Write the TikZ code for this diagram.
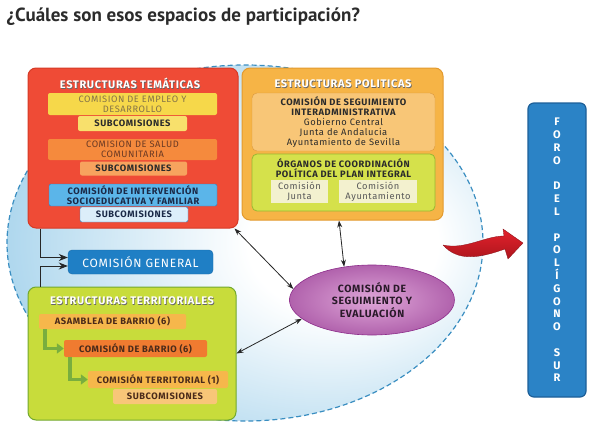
\documentclass[tikz,border=0pt]{standalone}
\usepackage{fontspec}
\setmainfont{Fira Sans}
\newfontfamily\titlefont{PT Sans}
\newfontfamily\boxfont[LetterSpace=6]{Fira Sans}
\usetikzlibrary{arrows.meta,shapes.geometric}

\definecolor{titlegray}{HTML}{2B2B2B}
\definecolor{linegray}{HTML}{262626}
\definecolor{temred}{HTML}{EF4B36}
\definecolor{temredd}{HTML}{D63A26}
\definecolor{empyel}{HTML}{F6D84A}
\definecolor{empytxt}{HTML}{857448}
\definecolor{subyel}{HTML}{F8E06C}
\definecolor{salor}{HTML}{F58A3D}
\definecolor{saltxt}{HTML}{6B3A24}
\definecolor{subor}{HTML}{F7A35E}
\definecolor{intblue}{HTML}{5BB5E9}
\definecolor{intblued}{HTML}{2E7DBE}
\definecolor{inttxt}{HTML}{1B2A48}
\definecolor{subblue}{HTML}{DCEEFA}
\definecolor{polor}{HTML}{F6B446}
\definecolor{polord}{HTML}{E39A2E}
\definecolor{segor}{HTML}{F8C677}
\definecolor{segord}{HTML}{D9983E}
\definecolor{orggreen}{HTML}{D5E14B}
\definecolor{orggreend}{HTML}{98B832}
\definecolor{pale}{HTML}{F3F1CF}
\definecolor{genblue}{HTML}{1F7FC5}
\definecolor{genblued}{HTML}{176AAA}
\definecolor{tergreen}{HTML}{C8DC3B}
\definecolor{tergreend}{HTML}{72A92E}
\definecolor{asamor}{HTML}{F6B74B}
\definecolor{barrior}{HTML}{F07B30}
\definecolor{subter}{HTML}{F8C678}
\definecolor{brown}{HTML}{4A2A1A}
\definecolor{arrgreen}{HTML}{79AE3E}
\definecolor{bgblue}{HTML}{A6D3EC}
\definecolor{bgdash}{HTML}{3A8EC1}
\definecolor{evalin}{HTML}{DFA6D8}
\definecolor{evalout}{HTML}{8C2C8A}
\definecolor{evaltxt}{HTML}{2A1A2A}
\definecolor{foroblue}{HTML}{2B83C6}
\definecolor{forodark}{HTML}{1D5F98}
\definecolor{arrowred}{HTML}{E3222C}
\definecolor{arrowdark}{HTML}{A8141C}

\pgfdeclareradialshading{bgshade}{\pgfpoint{12bp}{0bp}}{color(0bp)=(white); color(10bp)=(white); color(34bp)=(bgblue); color(70bp)=(bgblue)}
\pgfdeclareradialshading{evalshade}{\pgfpoint{0bp}{0bp}}{color(0bp)=(evalin); color(45bp)=(evalout); color(70bp)=(evalout)}

\newcommand{\shadowed}[1]{\rlap{\raisebox{-0.7pt}{\hspace{0.7pt}\textcolor{black!60}{#1}}}#1}

\tikzset{
  box/.style={rectangle, rounded corners=2pt, inner sep=0pt, align=center},
  panel/.style={box, rounded corners=8pt, line width=1pt},
  head/.style={font=\boxfont\fontsize{11}{12}\selectfont\bfseries, text=white},
  small/.style={font=\boxfont\fontsize{9.3}{10}\selectfont},
  smallb/.style={font=\boxfont\fontsize{9.3}{10}\selectfont\bfseries},
  blk/.style={draw=linegray, line width=0.9pt, -{Stealth[length=9pt,width=7pt]}},
  dbl/.style={draw=linegray, line width=0.8pt, {Stealth[length=7pt,width=5pt]}-{Stealth[length=7pt,width=5pt]}},
  garr/.style={draw=arrgreen, line width=3.5pt, -{Triangle[length=7pt,width=10pt]}}
}

\begin{document}
\begin{tikzpicture}[x=1pt,y=-1pt]
  \useasboundingbox (0,0) rectangle (600,442);
  % title
  \node[anchor=west, font=\titlefont\fontsize{19}{22}\selectfont\bfseries, text=titlegray] (title) at (3,17) {¿Cuáles son esos espacios de participación?};
  % background circle
  \path[shade, shading=bgshade, draw=bgdash, dash pattern=on 5pt off 3pt, line width=1.2pt] (245,243) ellipse (238 and 178);

  % Estructuras tematicas
  \node[panel, fill=temred, draw=temredd, minimum width=210pt, minimum height=160pt] (tem) at (133,148) {};
  \node[head] (temhead) at (130,84) {\shadowed{ESTRUCTURAS TEMÁTICAS}};
  \node[box, small, fill=empyel, text=empytxt, minimum width=169pt, minimum height=22pt] (empleo) at (132.5,104) {COMISION DE EMPLEO Y\\DESARROLLO};
  \node[box, smallb, fill=subyel, text=titlegray, minimum width=109pt, minimum height=15pt] (subemp) at (132.5,123.5) {SUBCOMISIONES};
  \node[box, small, fill=salor, text=saltxt, minimum width=169pt, minimum height=21pt] (salud) at (132.5,149.5) {COMISION DE SALUD\\COMUNITARIA};
  \node[box, smallb, fill=subor, text=titlegray, minimum width=107pt, minimum height=14pt] (subsal) at (133.5,168.5) {SUBCOMISIONES};
  \node[box, smallb, fill=intblue, draw=intblued, text=inttxt, minimum width=168pt, minimum height=22pt] (interv) at (133,195) {COMISIÓN DE INTERVENCIÓN\\SOCIOEDUCATIVA Y FAMILIAR};
  \node[box, smallb, fill=subblue, draw=intblued, text=inttxt, minimum width=108pt, minimum height=15pt] (subint) at (134,214.5) {SUBCOMISIONES};

  % Estructuras politicas
  \node[panel, fill=polor, draw=polord, minimum width=201pt, minimum height=152pt] (pol) at (342.5,144) {};
  \node[head] (polhead) at (343,84) {\shadowed{ESTRUCTURAS POLITICAS}};
  \node[box, small, rounded corners=5pt, fill=segor, draw=segord, text=titlegray, minimum width=183pt, minimum height=58pt] (seg) at (343.5,122)
    {\bfseries COMISIÓN DE SEGUIMIENTO\\\bfseries INTERADMINISTRATIVA\\Gobierno Central\\Junta de Andalucia\\Ayuntamiento de Sevilla};
  \node[box, rounded corners=5pt, fill=orggreen, draw=orggreend, line width=0.8pt, minimum width=183pt, minimum height=57pt] (org) at (343.5,182.5) {};
  \node[smallb, align=center, text=titlegray] (orghead) at (343.5,168) {ÓRGANOS DE COORDINACIÓN\\POLÍTICA DEL PLAN INTEGRAL};
  \node[box, small, rounded corners=0pt, fill=pale, text=black!65, minimum width=57pt, minimum height=23pt] (junta) at (299.5,191.5) {Comisión\\Junta};
  \node[box, small, rounded corners=0pt, fill=pale, text=black!65, minimum width=78pt, minimum height=23pt] (ayto) at (378,191.5) {Comisión\\Ayuntamiento};

  % Comision general
  \node[box, rounded corners=4pt, fill=genblue, draw=genblued, text=white, font=\boxfont\fontsize{12}{13}\selectfont, minimum width=145pt, minimum height=24pt] (gen) at (140.5,262) {COMISIÓN GENERAL};

  % Estructuras territoriales
  \node[panel, fill=tergreen, draw=tergreend, minimum width=208pt, minimum height=133pt] (ter) at (132,353.5) {};
  \node[head] (terhead) at (132,301) {\shadowed{ESTRUCTURAS TERRITORIALES}};
  \node[box, smallb, fill=asamor, text=brown, minimum width=147pt, minimum height=15pt] (asam) at (112.5,321.5) {ASAMBLEA DE BARRIO (6)};
  \node[box, smallb, fill=barrior, text=brown, minimum width=143pt, minimum height=17pt] (barrio) at (135.5,348.5) {COMISIÓN DE BARRIO (6)};
  \node[box, smallb, fill=asamor, text=brown, minimum width=140pt, minimum height=17pt] (terr) at (158,379.5) {COMISIÓN TERRITORIAL (1)};
  \node[box, smallb, fill=subter, text=brown, minimum width=104pt, minimum height=15pt] (subter) at (165,396.5) {SUBCOMISIONES};
  \draw[garr] ([xshift=6pt]asam.south west) |- (barrio.west);
  \draw[garr] ([xshift=6pt]barrio.south west) |- (terr.west);

  % Comision de seguimiento y evaluacion
  \node[ellipse, shade, shading=evalshade, draw=evalout, line width=0.6pt, minimum width=165pt, minimum height=70pt, inner sep=0pt, align=center, text=evaltxt, font=\boxfont\fontsize{10.5}{12.5}\selectfont\bfseries] (eval) at (372,300) {COMISIÓN DE\\SEGUIMIENTO Y\\EVALUACIÓN};

  % connectors
  \draw[blk] ([xshift=13pt]tem.south west) |- ([yshift=4.5pt]gen.west);
  \draw[blk] ([xshift=13pt]ter.north west) |- ([yshift=-4pt]gen.west);
  \draw[dbl] ([xshift=-4pt]tem.south east) -- (eval.172);
  \draw[dbl] ([xshift=-3.5pt]pol.south) -- (eval.130);
  \draw[dbl] (ter.east) -- (eval.195);

  % Foro
  \node[box, rounded corners=6pt, fill=foroblue, draw=forodark, line width=1.2pt, text=white, font=\fontsize{11}{12.8}\selectfont\bfseries, minimum width=58pt, minimum height=294pt] (foro) at (557,250)
    {F\\O\\R\\O\\[12.8pt]D\\E\\L\\[12.8pt]P\\O\\L\\Í\\G\\O\\N\\O\\[12.8pt]S\\U\\R};
  % red arrow
  \shade[top color=arrowred, bottom color=arrowdark, draw=arrowdark!80!black, line width=0.3pt]
    (443,245) .. controls (458,262) and (480,258) .. (505,249) -- (508,259) -- (523,243) -- (503,229) -- (504,236) .. controls (485,236) and (465,250) .. (443,245);
\end{tikzpicture}
\end{document}
